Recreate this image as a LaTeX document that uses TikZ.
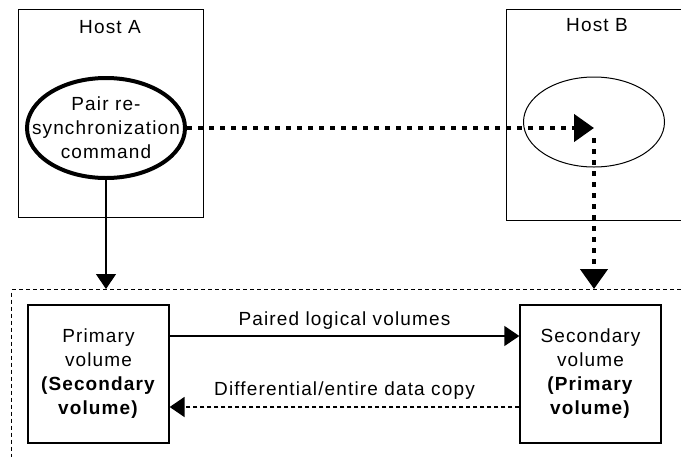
\documentclass[tikz,border=0pt]{standalone}
\usepackage{fontspec}
\setmainfont{Liberation Sans}[LetterSpace=6]
\usetikzlibrary{arrows.meta,shapes.geometric}

\tikzset{
  hostbox/.style={draw, line width=1.3pt, anchor=north west},
  volbox/.style={draw, line width=1.3pt, minimum width=141pt, minimum height=138pt, align=center},
  cmd/.style={ellipse, draw, inner sep=0pt},
  regionbox/.style={draw, line width=1.2pt, dash pattern=on 4pt off 3pt, anchor=north west},
  bigdot/.style={line width=4.5pt, dash pattern=on 5pt off 6pt},
  thindot/.style={line width=2pt, dash pattern=on 4pt off 3pt},
  bigtip/.style={-{Triangle[length=20pt,width=27pt]}},
  smalltip/.style={-{Triangle[length=15pt,width=20pt]}},
}

\begin{document}
\begin{tikzpicture}[x=1pt, y=-1pt, font=\fontsize{19pt}{24pt}\selectfont]
		\clip (0,0) rectangle (681,456);

		%Hosts
		\node[hostbox, minimum width=185pt, minimum height=208pt] (host_a) at (18,9) {};
		\node (host_a_lbl) at (110,27) {Host A};
		\node[hostbox, minimum width=200pt, minimum height=211pt] (host_b) at (506,9) {};
		\node (host_b_lbl) at (597,25) {Host B};

		%Commands
		\node[cmd, line width=4pt, minimum width=158pt, minimum height=100pt] (cmd_a) at (106,128) {};
		\node[align=center] (cmd_a_txt) at (cmd_a) {Pair re-\\synchronization\\command};
		\node[cmd, line width=1pt, minimum width=141pt, minimum height=90pt] (cmd_b) at (594,122) {};

		%Volumes
		\node[regionbox, minimum width=700pt, minimum height=200pt] (region) at (11,289) {};
		\node[volbox] (vol_p) at (98.5,374) {Primary\\volume\\\textbf{(Secondary}\\\textbf{volume)}};
		\node[volbox] (vol_s) at (590.5,374) {Secondary\\volume\\\textbf{(Primary}\\\textbf{volume)}};

		\coordinate (a_in) at (cmd_a.south |- region.north);
		\coordinate (b_mid) at (cmd_a.east -| cmd_b.center);
		\coordinate (b_in) at (b_mid |- region.north);

		%connections
		\draw[line width=1.3pt, smalltip] (cmd_a.south) -- (a_in);
		\draw[bigdot, bigtip] (cmd_a.east) -- (b_mid);
		\draw[bigdot, bigtip] (b_mid) ++(0,10) -- (b_in);
		\draw[line width=1.3pt, smalltip] ([yshift=38pt]vol_p.east) -- node[midway, above=3pt] {Paired logical volumes} ([yshift=38pt]vol_s.west);
		\draw[thindot, smalltip] ([yshift=-33pt]vol_s.west) -- node[midway, above=3pt] {Differential/entire data copy} ([yshift=-33pt]vol_p.east);

	\end{tikzpicture}
\end{document}
